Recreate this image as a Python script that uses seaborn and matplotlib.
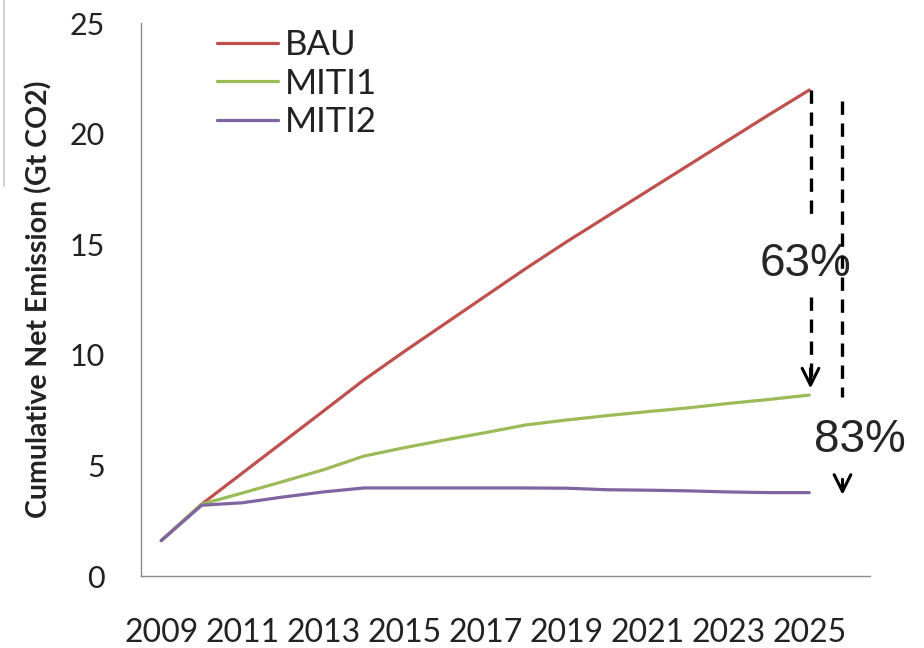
import numpy as np
import pandas as pd
import seaborn as sns
import matplotlib.pyplot as plt
from matplotlib.lines import Line2D

years = [2009, 2010, 2011, 2012, 2013, 2014, 2015, 2016, 2017,
         2018, 2019, 2020, 2021, 2022, 2023, 2024, 2025]
bau = [1.6, 3.25, 4.65, 6.05, 7.45, 8.86, 10.15, 11.4, 12.65,
       13.9, 15.1, 16.25, 17.4, 18.55, 19.7, 20.85, 21.97]
miti1 = [1.6, 3.25, 3.75, 4.27, 4.8, 5.42, 5.8, 6.15, 6.48,
         6.83, 7.05, 7.25, 7.43, 7.6, 7.8, 7.98, 8.18]
miti2 = [1.6, 3.2, 3.31, 3.57, 3.8, 3.98, 3.98, 3.98, 3.98,
         3.98, 3.97, 3.9, 3.88, 3.85, 3.8, 3.77, 3.77]
year_labels = ['2009', '2011', '2013', '2015', '2017', '2019', '2021', '2023', '2025']
cut_labels = ['63%', '83%']

df = pd.DataFrame({'year': years * 3,
                   'value': bau + miti1 + miti2,
                   'scenario': ['BAU'] * len(years) + ['MITI1'] * len(years) + ['MITI2'] * len(years)})

sns.set_style('white')
plt.rcParams['font.family'] = ['Lato', 'DejaVu Sans']
palette = {'BAU': '#C0504D', 'MITI1': '#9BBB59', 'MITI2': '#8064A2'}

fig = plt.figure(figsize=(9.24, 6.48), dpi=100)
ax = fig.add_axes([0.1526, 0.1111, 0.789, 0.8534])
sns.lineplot(data=df, x='year', y='value', hue='scenario', palette=palette,
             linewidth=2.3, ax=ax)

ax.set_ylim(0, 25)
ax.set_yticks([0, 5, 10, 15, 20, 25])
ax.set_xlim(2008.5, 2026.5)
ax.set_xticks([int(y) for y in year_labels])
ax.set_xticklabels(year_labels)
ax.set_xticks(np.arange(2008.5, 2027, 1), minor=True)
ax.tick_params(axis='x', which='major', length=0, pad=30, labelsize=23, colors='#222222')
ax.tick_params(axis='x', which='minor', length=9, width=1, color='#8c8c8c', direction='out')
ax.tick_params(axis='y', length=9, width=1, color='#8c8c8c', direction='out', pad=17,
               labelsize=22, labelcolor='#222222')
ax.set_xlabel('')
ax.set_ylabel('Cumulative Net Emission (Gt CO2)', fontsize=20.5, fontweight='bold',
              color='#222222', labelpad=12)
sns.despine(ax=ax)
for s in ['left', 'bottom']:
    ax.spines[s].set_color('#8c8c8c')
    ax.spines[s].set_linewidth(1)

leg = ax.legend(loc='upper left', bbox_to_anchor=(0.062, 1.045), frameon=False,
                fontsize=25, handlelength=1.75, handletextpad=0.2, labelspacing=0.18)
for t in leg.get_texts():
    t.set_color('#222222')

# reduction arrows
dash = dict(color='black', linestyle=(0, (4, 2.6)), linewidth=2.4, clip_on=False)
x1 = years[-1] + 0.03
x2 = years[-1] + 0.82
head = dict(arrowstyle='->', color='black', lw=2.2, mutation_scale=30, shrinkA=0, shrinkB=0)

ax.plot([x1, x1], [bau[-1], 16.2], **dash, zorder=5)
ax.plot([x1, x1], [12.6, miti1[-1] + 0.6], **dash, zorder=5)
ax.annotate('', xy=(x1, miti1[-1] + 0.3), xytext=(x1, miti1[-1] + 1.2),
            arrowprops=head, annotation_clip=False)
ax.plot([x2, x2], [bau[-1] - 0.5, miti1[-1] - 0.1], **dash, zorder=5)
ax.annotate('', xy=(x2, miti2[-1] - 0.1), xytext=(x2, miti2[-1] + 0.6),
            arrowprops=head, annotation_clip=False)

ax.text(years[-1] - 0.1, 14.1, cut_labels[0], fontsize=33, family='Liberation Sans',
        ha='center', va='center', zorder=4)
ax.text(years[-1] + 1.25, 6.15, cut_labels[1], fontsize=33, family='Liberation Sans',
        ha='center', va='center', zorder=4)

# faint frame edge left over from the source screenshot
fig.add_artist(Line2D([0.004, 0.004], [1.0, 0.713], color='#c8c8c8', lw=1.2))

fig.savefig('out.png', dpi=100)
